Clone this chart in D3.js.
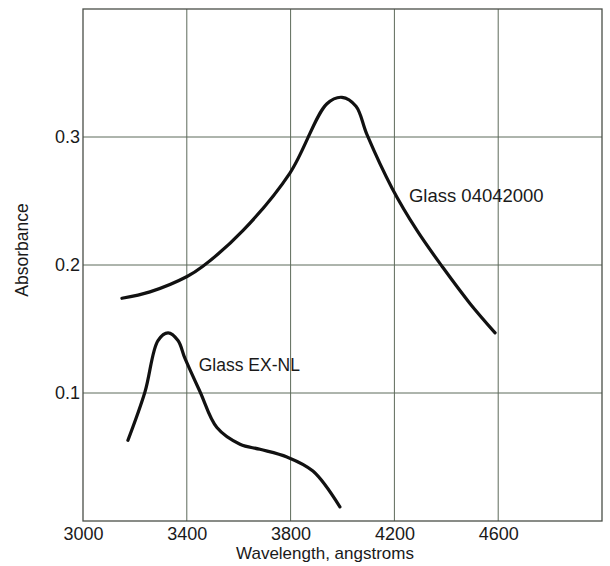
<!DOCTYPE html>
<html lang="en">
<head>
    <meta charset="UTF-8">
    <title>Absorbance vs wavelength</title>
    <script src="https://d3js.org/d3.v7.min.js"></script>
    <style>
        body { margin: 0; background: #fff; }
        text { font-family: "Liberation Sans", Arial, sans-serif; fill: #1a1a1a; }
        .grid line { stroke: #5d6a5a; stroke-width: 1; }
        .curve { fill: none; stroke: #111; stroke-width: 3.2; stroke-linecap: round; }
    </style>
</head>
<body>
    <svg id="chart" width="610" height="566"></svg>
    <script>
        // wavelength (angstroms) / absorbance
        const glass0404Wave = [3150, 3258, 3401, 3462, 3617, 3798, 3940, 3998, 4052, 4094, 4191, 4287, 4387, 4491, 4588];
        const glass0404Abs  = [0.174, 0.179, 0.191, 0.199, 0.227, 0.272, 0.326, 0.331, 0.324, 0.302, 0.260, 0.227, 0.198, 0.170, 0.147];

        const exnlWave = [3173, 3239, 3289, 3328, 3366, 3393, 3451, 3516, 3605, 3682, 3786, 3886, 3990];
        const exnlAbs  = [0.063, 0.101, 0.141, 0.147, 0.141, 0.127, 0.101, 0.073, 0.060, 0.056, 0.050, 0.039, 0.011];

        const xTicks = [3000, 3400, 3800, 4200, 4600];
        const yTicks = [0.1, 0.2, 0.3];

        const margin = { left: 83, right: 8, top: 9, bottom: 45 };
        const width = 610, height = 566;

        const svg = d3.select("#chart");
        const x = d3.scaleLinear().domain([3000, 5000]).range([margin.left, width - margin.right]);
        const y = d3.scaleLinear().domain([0, 0.4]).range([height - margin.bottom, margin.top]);

        // grid
        const grid = svg.append("g").attr("class", "grid");
        grid.selectAll(".v")
            .data(xTicks.slice(1))
            .enter()
            .append("line")
            .attr("x1", d => x(d)).attr("x2", d => x(d))
            .attr("y1", y(0)).attr("y2", y(0.4));
        grid.selectAll(".h")
            .data(yTicks)
            .enter()
            .append("line")
            .attr("x1", x(3000)).attr("x2", x(5000))
            .attr("y1", d => y(d)).attr("y2", d => y(d));

        svg.append("rect")
            .attr("x", x(3000)).attr("y", y(0.4))
            .attr("width", x(5000) - x(3000)).attr("height", y(0) - y(0.4))
            .attr("fill", "none").attr("stroke", "#4a4f48").attr("stroke-width", 1.3);

        // axes (labels only, the frame is drawn above)
        const xAxis = svg.append("g")
            .attr("transform", `translate(0,${y(0)})`)
            .call(d3.axisBottom(x).tickValues(xTicks).tickFormat(d3.format("d")).tickSize(0).tickPadding(6));
        const yAxis = svg.append("g")
            .attr("transform", `translate(${x(3000)},0)`)
            .call(d3.axisLeft(y).tickValues(yTicks).tickFormat(d3.format(".1f")).tickSize(0).tickPadding(3));
        [xAxis, yAxis].forEach(a => {
            a.select(".domain").remove();
            a.selectAll("text").attr("font-size", 18).attr("font-family", null);
        });
        xAxis.selectAll("text").attr("dy", "0.72em");

        svg.append("text")
            .attr("x", 325).attr("y", 559)
            .attr("text-anchor", "middle")
            .attr("font-size", 17)
            .text("Wavelength, angstroms");

        svg.append("text")
            .attr("transform", "translate(28,250) rotate(-90)")
            .attr("text-anchor", "middle")
            .attr("font-size", 17.5)
            .text("Absorbance");

        // curves
        const line = d3.line()
            .x(d => x(d[0]))
            .y(d => y(d[1]))
            .curve(d3.curveCatmullRom.alpha(0.5));

        svg.append("path")
            .attr("class", "curve")
            .attr("d", line(d3.zip(glass0404Wave, glass0404Abs)));
        svg.append("path")
            .attr("class", "curve")
            .attr("d", line(d3.zip(exnlWave, exnlAbs)));

        svg.append("text")
            .attr("x", x(4256)).attr("y", y(0.249))
            .attr("font-size", 18.5)
            .text("Glass 04042000");
        svg.append("text")
            .attr("x", x(3446)).attr("y", y(0.117))
            .attr("font-size", 17.5)
            .text("Glass EX-NL");
    </script>
</body>
</html>
